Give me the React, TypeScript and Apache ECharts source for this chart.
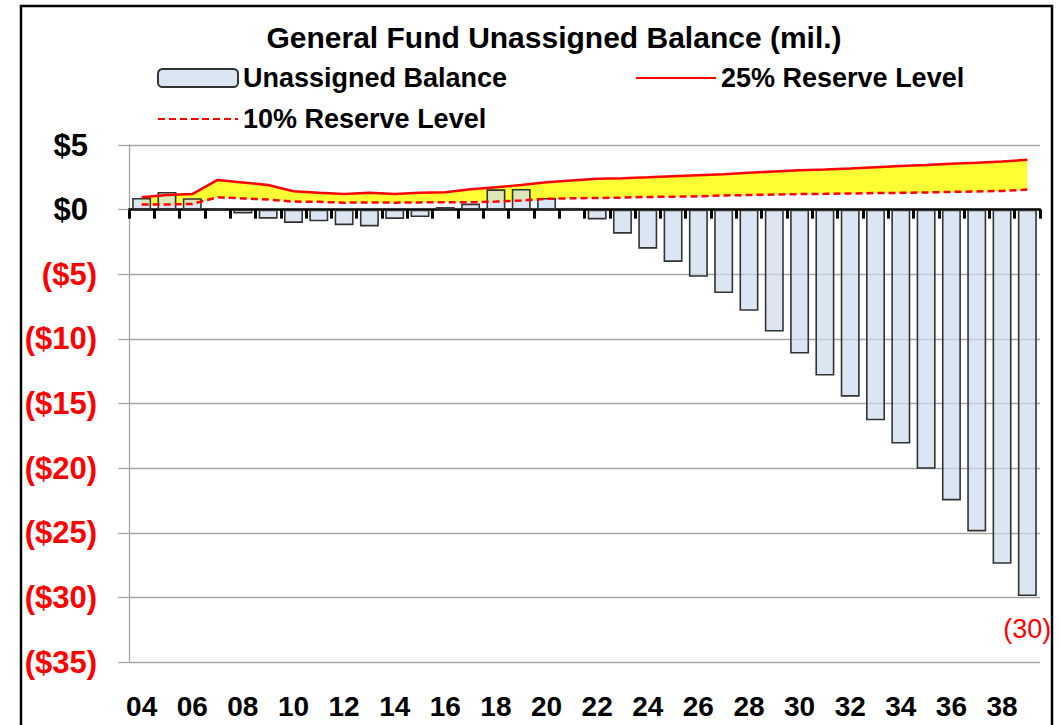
import React, { useEffect, useRef } from "react";
import * as echarts from "echarts";

const years = [
  "04", "05", "06", "07", "08", "09", "10", "11", "12", "13", "14", "15",
  "16", "17", "18", "19", "20", "21", "22", "23", "24", "25", "26", "27",
  "28", "29", "30", "31", "32", "33", "34", "35", "36", "37", "38", "39",
];

const unassignedBalance = [
  0.9, 1.37, 0.88, 0.1, -0.3, -0.7, -1.03, -0.9, -1.2, -1.3, -0.72, -0.58,
  0.2, 0.47, 1.57, 1.6, 0.9, 0.13, -0.76, -1.86, -3.02, -4.05, -5.2, -6.46,
  -7.83, -9.43, -11.14, -12.84, -14.47, -16.3, -18.1, -20.05, -22.5, -24.9, -27.4, -29.9,
];

const reserve25 = [
  0.95, 1.14, 1.2, 2.3, 2.1, 1.9, 1.42, 1.3, 1.2, 1.3, 1.2, 1.3,
  1.35, 1.57, 1.73, 1.91, 2.12, 2.25, 2.38, 2.43, 2.5, 2.58, 2.66, 2.74,
  2.85, 2.95, 3.05, 3.1, 3.18, 3.28, 3.38, 3.46, 3.55, 3.62, 3.72, 3.85,
];

const reserve10 = [
  0.39, 0.4, 0.44, 0.95, 0.87, 0.78, 0.62, 0.6, 0.54, 0.56, 0.54, 0.56,
  0.58, 0.58, 0.62, 0.7, 0.83, 0.88, 0.9, 0.93, 0.98, 1.0, 1.03, 1.1,
  1.13, 1.17, 1.2, 1.22, 1.25, 1.28, 1.3, 1.33, 1.37, 1.4, 1.45, 1.55,
];

const yTicks = { min: -35, max: 5, interval: 5 };

const FONT = "'Liberation Sans', Arial, sans-serif";
const RED = "#FF0000";

export default function App() {
  const ref = useRef<HTMLDivElement>(null);

  useEffect(() => {
    if (!ref.current) return;
    const chart = echarts.init(ref.current, undefined, { renderer: "svg" });
    const band = reserve25.map((v, i) => +(v - reserve10[i]).toFixed(3));
    const lastIdx = unassignedBalance.length - 1;

    const legendText = {
      fontFamily: FONT,
      fontSize: 27,
      fontWeight: "bold" as const,
      color: "#000",
      lineHeight: 36,
    };

    chart.setOption({
      animation: false,
      backgroundColor: "#fff",
      grid: { left: 129, right: 21, top: 145, bottom: 63, containLabel: false },
      legend: [
        {
          data: ["Unassigned Balance"],
          left: 152,
          top: 55,
          itemWidth: 80,
          itemHeight: 18,
          itemGap: 0,
          textStyle: legendText,
          selectedMode: false,
        },
        {
          data: ["25% Reserve Level"],
          left: 630,
          top: 55,
          itemWidth: 80,
          itemHeight: 2,
          textStyle: legendText,
          selectedMode: false,
        },
        {
          data: ["10% Reserve Level"],
          left: 152,
          top: 96,
          itemWidth: 80,
          itemHeight: 2,
          textStyle: legendText,
          selectedMode: false,
        },
      ],
      xAxis: [
        {
          type: "category",
          data: years,
          position: "bottom",
          boundaryGap: true,
          axisLine: { show: false, onZero: false },
          axisTick: { show: false },
          splitLine: { show: false },
          axisLabel: {
            interval: 1,
            margin: 30,
            fontFamily: FONT,
            fontSize: 28,
            fontWeight: "bold",
            color: "#000",
          },
        },
        {
          type: "category",
          data: years,
          position: "bottom",
          boundaryGap: true,
          axisLine: { show: true, onZero: true, lineStyle: { color: "#000", width: 2.5 } },
          axisTick: { show: true, interval: 0, length: 9, lineStyle: { color: "#000", width: 3 } },
          axisLabel: { show: false },
          splitLine: { show: false },
        },
      ],
      yAxis: {
        type: "value",
        min: yTicks.min,
        max: yTicks.max,
        interval: yTicks.interval,
        axisLine: { show: true, lineStyle: { color: "#a6a6a6", width: 1.3 } },
        axisTick: { show: true, length: 11, lineStyle: { color: "#a6a6a6", width: 1.3 } },
        splitLine: { show: true, lineStyle: { color: "#a6a6a6", width: 1.3 } },
        axisLabel: {
          margin: 32,
          formatter: (v: number) => (v < 0 ? `{n|($${-v})}` : `{p|$${v}}`),
          rich: {
            n: { color: RED, fontFamily: FONT, fontSize: 31, fontWeight: "bold" },
            p: { color: "#000", fontFamily: FONT, fontSize: 31, fontWeight: "bold", padding: [0, 9, 0, 0] },
          },
        },
      },
      graphic: [
        {
          type: "rect",
          silent: true,
          shape: { x: 21, y: 6, width: 1031, height: 800 },
          style: { fill: "none", stroke: "#000", lineWidth: 2.5 },
          z: 100,
        },
        {
          type: "text",
          silent: true,
          x: 554,
          y: 37,
          style: {
            text: "General Fund Unassigned Balance (mil.)",
            fontFamily: FONT,
            fontSize: 30,
            fontWeight: "bold",
            fill: "#000",
            align: "center",
            verticalAlign: "middle",
          },
        },
      ],
      series: [
        {
          name: "base",
          type: "line",
          stack: "band",
          data: reserve10,
          symbol: "none",
          silent: true,
          lineStyle: { opacity: 0 },
          z: 1,
        },
        {
          name: "band",
          type: "line",
          stack: "band",
          data: band,
          symbol: "none",
          silent: true,
          lineStyle: { opacity: 0 },
          areaStyle: { color: "#FFFF33", opacity: 1 },
          z: 1,
        },
        {
          name: "Unassigned Balance",
          type: "bar",
          data: unassignedBalance,
          xAxisIndex: 0,
          barCategoryGap: "25%",
          itemStyle: {
            color: "rgba(205,219,238,0.7)",
            borderColor: "#333333",
            borderWidth: 1.6,
          },
          label: {
            show: true,
            position: "outside",
            distance: 19,
            fontFamily: FONT,
            fontSize: 27,
            color: RED,
            formatter: (p: any) => (p.dataIndex === lastIdx ? `(${Math.round(-p.value)})` : ""),
          },
          z: 2,
        },
        {
          name: "25% Reserve Level",
          type: "line",
          data: reserve25,
          symbol: "none",
          lineStyle: { color: RED, width: 2.5 },
          itemStyle: { color: RED },
          z: 3,
        },
        {
          name: "10% Reserve Level",
          type: "line",
          data: reserve10,
          symbol: "none",
          lineStyle: { color: RED, width: 2.5, type: [7, 4] },
          itemStyle: { color: RED },
          z: 3,
        },
      ],
    });

    return () => chart.dispose();
  }, []);

  return (
    <div
      ref={ref}
      style={{ position: "fixed", left: 0, top: 0, width: 1061, height: 725, background: "#fff" }}
    />
  );
}
